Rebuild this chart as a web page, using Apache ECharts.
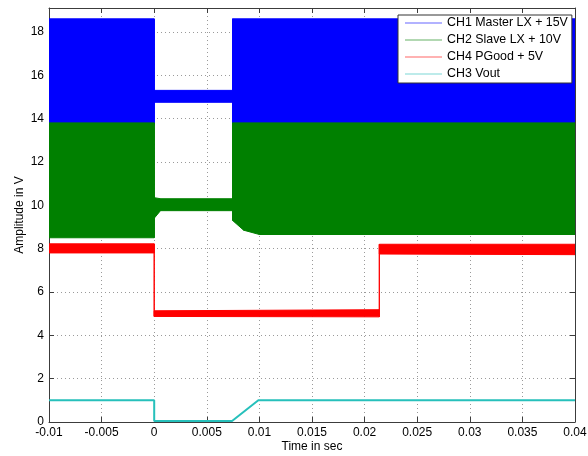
<!DOCTYPE html>
<html><head><meta charset="utf-8">
<script src="https://cdn.jsdelivr.net/npm/echarts@6/dist/echarts.min.js"></script>
<style>html,body{margin:0;padding:0;background:#fff}#c{width:588px;height:456px}</style>
</head><body><div id="c"></div>
<script>
// CH1 Master LX + 15V : noise band (low / high envelope)
const ch1Time = [-0.01, 0, 0, 0.00745, 0.00745, 0.04];
const ch1Low  = [13.7, 13.7, 14.75, 14.75, 13.7, 13.7];
const ch1High = [18.6, 18.6, 15.3, 15.3, 18.6, 18.6];
// CH2 Slave LX + 10V
const ch2Time = [-0.01, 0, 0, 0.0006, 0.00745, 0.00745, 0.0085, 0.0100, 0.04];
const ch2Low  = [8.5, 8.5, 9.4, 9.75, 9.75, 9.3, 8.85, 8.65, 8.65];
const ch2High = [13.8, 13.8, 10.35, 10.3, 10.3, 13.8, 13.8, 13.8, 13.8];
// CH4 PGood + 5V
const ch4Time = [-0.01, 0, 0, 0.0214, 0.0214, 0.04];
const ch4Low  = [7.8, 7.8, 4.87, 4.85, 7.75, 7.72];
const ch4High = [8.22, 8.22, 5.13, 5.18, 8.2, 8.2];
// CH3 Vout
const ch3Time = [-0.01, 0, 0, 0.0074, 0.0099, 0.04];
const ch3Val  = [1.0, 1.0, 0.05, 0.05, 1.0, 1.0];

const xTicks = { min: -0.01, max: 0.04, interval: 0.005 };
const yTicks = { min: 0, max: 19.1, interval: 2 };

const names = ['CH1 Master LX + 15V', 'CH2 Slave LX + 10V', 'CH4 PGood + 5V', 'CH3 Vout'];
const colors = ['#0000ff', '#008000', '#ff0000', '#26c0bb'];

// band drawn as polygon segments between consecutive envelope points
function band(name, color, t, lo, hi) {
  const segs = [];
  for (let i = 0; i < t.length - 1; i++) {
    segs.push([t[i], t[i + 1], lo[i], lo[i + 1], hi[i], hi[i + 1]]);
  }
  return {
    type: 'custom', name: name, silent: true, clip: true,
    itemStyle: { color: color },
    encode: { x: [0, 1], y: [2, 3, 4, 5] },
    data: segs,
    renderItem: function (params, api) {
      const p = [
        api.coord([api.value(0), api.value(2)]),
        api.coord([api.value(1), api.value(3)]),
        api.coord([api.value(1), api.value(5)]),
        api.coord([api.value(0), api.value(4)])
      ];
      return {
        type: 'polygon', shape: { points: p },
        style: { fill: color, stroke: color, lineWidth: 1 }
      };
    }
  };
}

const font = 'Liberation Sans, Arial, sans-serif';
const axisLineStyle = { color: '#3c3c3c', width: 1 };

const chart = echarts.init(document.getElementById('c'), null, { renderer: 'canvas' });
chart.setOption({
  animation: false,
  backgroundColor: '#fff',
  grid: { left: 49, right: 13, top: 8, bottom: 34, containLabel: false, outerBoundsMode: 'none' },
  legend: {
    data: names.map((n, i) => ({ name: n, itemStyle: { color: colors[i], opacity: 0.6 } })),
    orient: 'vertical', left: 398, top: 15,
    icon: 'rect', itemWidth: 37, itemHeight: 1, itemGap: 3,
    backgroundColor: '#fff', borderColor: '#333', borderWidth: 1,
    padding: [1, 4, 2, 7],
    textStyle: { fontFamily: font, fontSize: 12.4, color: '#000', lineHeight: 14 }
  },
  xAxis: [
    { type: 'value', min: xTicks.min, max: xTicks.max, interval: xTicks.interval,
      name: 'Time in sec', nameLocation: 'middle', nameGap: 19, nameMoveOverlap: false,
      nameTextStyle: { fontFamily: font, fontSize: 12, color: '#000' },
      axisLine: { show: true, onZero: false, lineStyle: axisLineStyle },
      axisTick: { show: true, inside: true, length: 5, lineStyle: axisLineStyle },
      axisLabel: { margin: 5, fontFamily: font, fontSize: 12, color: '#000',
        formatter: v => String(+v.toFixed(3)) },
      splitLine: { show: true, lineStyle: { color: '#9a9a9a', type: [1, 3], width: 1 } } },
    { type: 'value', position: 'top', min: xTicks.min, max: xTicks.max, interval: xTicks.interval,
      axisLine: { show: true, onZero: false, lineStyle: axisLineStyle },
      axisTick: { show: true, inside: true, length: 5, lineStyle: axisLineStyle },
      axisLabel: { show: false }, splitLine: { show: false } }
  ],
  yAxis: [
    { type: 'value', min: yTicks.min, max: yTicks.max, interval: yTicks.interval,
      name: 'Amplitude in V', nameLocation: 'middle', nameGap: 23, nameMoveOverlap: false,
      nameTextStyle: { fontFamily: font, fontSize: 12, color: '#000' },
      axisLine: { show: true, onZero: false, lineStyle: axisLineStyle },
      axisTick: { show: true, inside: true, length: 5, lineStyle: axisLineStyle },
      axisLabel: { margin: 5, fontFamily: font, fontSize: 12, color: '#000', showMaxLabel: false },
      splitLine: { show: true, lineStyle: { color: '#9a9a9a', type: [1, 3], width: 1 } } },
    { type: 'value', position: 'right', min: yTicks.min, max: yTicks.max, interval: yTicks.interval,
      axisLine: { show: true, onZero: false, lineStyle: axisLineStyle },
      axisTick: { show: true, inside: true, length: 5, lineStyle: axisLineStyle },
      axisLabel: { show: false }, splitLine: { show: false } }
  ],
  series: [
    band(names[0], colors[0], ch1Time, ch1Low, ch1High),
    band(names[1], colors[1], ch2Time, ch2Low, ch2High),
    band(names[2], colors[2], ch4Time, ch4Low, ch4High),
    { type: 'line', name: names[3], symbol: 'none', silent: true,
      data: ch3Time.map((x, i) => [x, ch3Val[i]]),
      lineStyle: { color: colors[3], width: 2 }, itemStyle: { color: colors[3] } }
  ]
});
</script></body></html>
